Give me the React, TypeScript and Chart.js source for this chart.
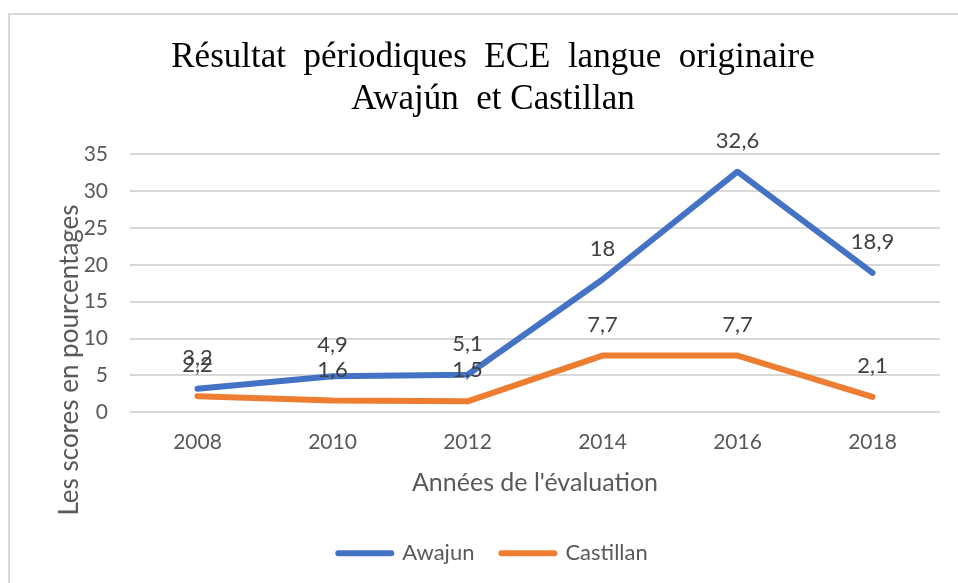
import React, { useEffect, useRef } from 'react';
import { Chart, registerables } from 'chart.js';
Chart.register(...registerables);

const years = ['2008', '2010', '2012', '2014', '2016', '2018'];
const awajun = [3.2, 4.9, 5.1, 18, 32.6, 18.9];
const castillan = [2.2, 1.6, 1.5, 7.7, 7.7, 2.1];
const titleLines = ['Résultat  périodiques  ECE  langue  originaire', 'Awajún  et Castillan'];
const yTitle = 'Les scores en pourcentages';
const xTitle = "Années de l'évaluation";

const FONT = 'Lato';
const TICK_COLOR = '#595959';

const framePlugin = {
  id: 'frame',
  beforeDraw(chart: any) {
    const ctx = chart.ctx;
    ctx.save();
    ctx.fillStyle = '#ffffff';
    ctx.fillRect(0, 0, chart.width, chart.height);
    ctx.strokeStyle = '#d9d9d9';
    ctx.lineWidth = 2;
    ctx.beginPath();
    ctx.moveTo(8, 14);
    ctx.lineTo(chart.width, 14);
    ctx.moveTo(9, 14);
    ctx.lineTo(9, chart.height);
    ctx.stroke();
    ctx.restore();
  },
};

const yTitlePlugin = {
  id: 'yTitleCustom',
  afterDraw(chart: any) {
    const ctx = chart.ctx;
    ctx.save();
    ctx.translate(70, 360);
    ctx.rotate(-Math.PI / 2);
    ctx.font = `26px ${FONT}`;
    ctx.fillStyle = TICK_COLOR;
    ctx.textAlign = 'center';
    ctx.textBaseline = 'middle';
    ctx.fillText(yTitle, 0, 0);
    ctx.restore();
  },
};

const dataLabelPlugin = {
  id: 'dataLabels',
  afterDatasetsDraw(chart: any) {
    const ctx = chart.ctx;
    ctx.save();
    ctx.font = `22px ${FONT}`;
    ctx.fillStyle = '#404040';
    ctx.textAlign = 'center';
    ctx.textBaseline = 'middle';
    chart.data.datasets.forEach((ds: any, di: number) => {
      const meta = chart.getDatasetMeta(di);
      meta.data.forEach((pt: any, i: number) => {
        const v = ds.data[i];
        ctx.fillText(String(v).replace('.', ','), pt.x, pt.y - 31);
      });
    });
    ctx.restore();
  },
};

export default function App() {
  const ref = useRef<HTMLCanvasElement | null>(null);
  useEffect(() => {
    document.body.style.margin = '0';
    const canvas = ref.current!;
    const chart = new Chart(canvas, {
      type: 'line',
      data: {
        labels: years,
        datasets: [
          {
            label: 'Awajun',
            data: awajun,
            borderColor: '#4472C4',
            backgroundColor: '#4472C4',
            borderWidth: 6,
            pointRadius: 0,
            pointHoverRadius: 0,
            borderJoinStyle: 'round',
            borderCapStyle: 'round',
            tension: 0,
          },
          {
            label: 'Castillan',
            data: castillan,
            borderColor: '#ED7D31',
            backgroundColor: '#ED7D31',
            borderWidth: 6,
            pointRadius: 0,
            pointHoverRadius: 0,
            borderJoinStyle: 'round',
            borderCapStyle: 'round',
            tension: 0,
          },
        ],
      },
      options: {
        responsive: false,
        animation: false,
        layout: { padding: { left: 46, right: 18, top: 0, bottom: 8.8 } },
        plugins: {
          tooltip: { enabled: false },
          title: {
            display: true,
            text: titleLines,
            color: '#000000',
            font: { family: 'Liberation Serif', size: 35, weight: 'normal', lineHeight: 1.2 },
            padding: { top: 37, bottom: 33 },
          },
          legend: {
            display: true,
            position: 'bottom',
            labels: {
              color: TICK_COLOR,
              font: { family: FONT, size: 22 },
              usePointStyle: true,
              pointStyle: 'line',
              pointStyleWidth: 53,
              padding: 27,
              generateLabels(c: any) {
                const items = Chart.defaults.plugins.legend.labels.generateLabels(c);
                return items.map((it: any) => ({ ...it, lineWidth: 6, lineCap: 'round', pointStyle: 'line' }));
              },
            },
          },
        },
        scales: {
          x: {
            offset: true,
            grid: { display: false, drawTicks: false },
            border: { display: false },
            ticks: { color: TICK_COLOR, font: { family: FONT, size: 21 }, padding: 17 },
            title: {
              display: true,
              text: xTitle,
              color: TICK_COLOR,
              font: { family: FONT, size: 25 },
              padding: { top: 10, bottom: 16.8 },
            },
            afterFit(scale: any) {
              scale.height = 102.8;
            },
          },
          y: {
            min: 0,
            max: 35,
            ticks: { stepSize: 5, color: TICK_COLOR, font: { family: FONT, size: 21 }, padding: 22 },
            grid: { color: '#d9d9d9', lineWidth: 2, drawTicks: false },
            border: { display: false },
            afterFit(scale: any) {
              scale.width = 84;
            },
          },
        },
      },
      plugins: [framePlugin, yTitlePlugin, dataLabelPlugin],
    } as any);
    return () => chart.destroy();
  }, []);
  return <canvas ref={ref} width={958} height={583} style={{ display: 'block' }} />;
}
